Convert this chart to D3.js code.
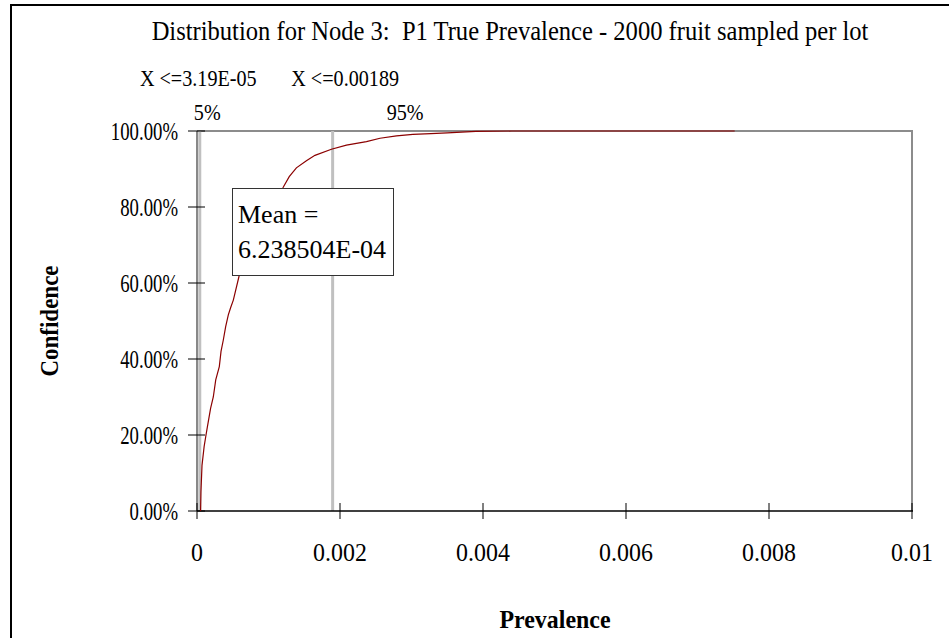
<!DOCTYPE html>
<html>
<head>
<meta charset="utf-8">
<script src="https://cdn.jsdelivr.net/npm/d3@7"></script>
<style>
  html, body { margin: 0; padding: 0; background: #ffffff; }
  svg { display: block; }
  text { font-family: "Liberation Serif", "Times New Roman", serif; fill: #000; white-space: pre; }
</style>
</head>
<body>
<script>
// Cumulative distribution of P1 true prevalence (2000 fruit sampled per lot)
const prevalence = [
  0.00005, 0.000055, 0.00007, 0.00010, 0.000126, 0.000144, 0.00019, 0.000228,
  0.000262, 0.000312, 0.000336, 0.000368, 0.000401, 0.000438, 0.000470, 0.000508,
  0.000592, 0.00066, 0.00074, 0.00085, 0.00099, 0.00120, 0.00129, 0.00139,
  0.00153, 0.00165, 0.00188, 0.00209, 0.00237, 0.00256, 0.00279, 0.00302,
  0.00327, 0.00350, 0.00390, 0.00440, 0.00752
];
const confidence = [
  0.0, 0.05, 0.12, 0.17, 0.20, 0.22, 0.27, 0.30,
  0.345, 0.38, 0.42, 0.45, 0.485, 0.516, 0.535, 0.555,
  0.621, 0.66, 0.70, 0.75, 0.80, 0.85, 0.88, 0.903,
  0.922, 0.936, 0.952, 0.963, 0.972, 0.981, 0.987, 0.991,
  0.993, 0.995, 0.999, 1.0, 1.0
];

const xTicks = [0, 0.002, 0.004, 0.006, 0.008, 0.01];
const xTickLabels = ["0", "0.002", "0.004", "0.006", "0.008", "0.01"];
const yTicks = [0, 0.2, 0.4, 0.6, 0.8, 1.0];
const yTickLabels = ["0.00%", "20.00%", "40.00%", "60.00%", "80.00%", "100.00%"];

const percentileValues = [3.19e-5, 0.00189];
const percentileNames = ["5%", "95%"];
const percentileTexts = ["X <=3.19E-05", "X <=0.00189"];
const meanValue = "6.238504E-04";

const titleText = "Distribution for Node 3:  P1 True Prevalence - 2000 fruit sampled per lot";

const W = 949, H = 638;
const plot = { left: 197, right: 912, top: 131, bottom: 511 };

const svg = d3.select("body").append("svg").attr("width", W).attr("height", H);

// outer frame
svg.append("rect")
  .attr("x", 11).attr("y", 5).attr("width", W + 10).attr("height", H + 10)
  .attr("fill", "#fff").attr("stroke", "#000").attr("stroke-width", 2);

const x = d3.scaleLinear().domain([0, 0.01]).range([plot.left, plot.right]);
const y = d3.scaleLinear().domain([0, 1]).range([plot.bottom, plot.top]);

// title (slightly condensed serif)
svg.append("text")
  .attr("transform", "translate(510,40) scale(0.91,1)")
  .attr("text-anchor", "middle").attr("font-size", 27)
  .text(titleText);

// plot frame: top and right edges in grey
svg.append("path")
  .attr("d", `M${plot.left},${plot.top}H${plot.right}V${plot.bottom}`)
  .attr("fill", "none").attr("stroke", "#8c8c8c").attr("stroke-width", 2);
svg.append("line")
  .attr("x1", plot.left).attr("x2", plot.left)
  .attr("y1", plot.top).attr("y2", plot.bottom)
  .attr("stroke", "#606060").attr("stroke-width", 1.5);

// percentile markers
const pctX = percentileValues.map(v => x(v));
svg.selectAll("line.pct").data(percentileValues).enter().append("line")
  .attr("class", "pct")
  .attr("x1", d => x(d) + 0.5).attr("x2", d => x(d) + 0.5)
  .attr("y1", plot.top).attr("y2", plot.bottom)
  .attr("stroke", "#c0c0c0").attr("stroke-width", 3);

// percentile captions (value row and percent row)
const valueRowOffsets = [-1, 13];
const pctRowOffsets = [8, 73];
svg.selectAll("text.pval").data(percentileTexts).enter().append("text")
  .attr("class", "pval")
  .attr("transform", (d, i) => `translate(${pctX[i] + valueRowOffsets[i]},86) scale(0.84,1)`)
  .attr("text-anchor", "middle").attr("font-size", 24)
  .text(d => d);
svg.selectAll("text.pname").data(percentileNames).enter().append("text")
  .attr("class", "pname")
  .attr("transform", (d, i) => `translate(${pctX[i] + pctRowOffsets[i]},120) scale(0.84,1)`)
  .attr("text-anchor", "middle").attr("font-size", 24)
  .text(d => d);

// x axis
svg.append("line")
  .attr("x1", plot.left).attr("x2", plot.right + 1)
  .attr("y1", plot.bottom).attr("y2", plot.bottom)
  .attr("stroke", "#000").attr("stroke-width", 1.5);
svg.selectAll("line.xt").data(xTicks).enter().append("line")
  .attr("class", "xt")
  .attr("x1", d => x(d)).attr("x2", d => x(d))
  .attr("y1", plot.bottom - 8).attr("y2", plot.bottom + 8)
  .attr("stroke", "#000").attr("stroke-width", 1);
svg.selectAll("text.xl").data(xTicks).enter().append("text")
  .attr("class", "xl")
  .attr("transform", d => `translate(${x(d)},561) scale(0.92,1)`)
  .attr("text-anchor", "middle").attr("font-size", 26)
  .text((d, i) => xTickLabels[i]);

// y axis
svg.selectAll("line.yt").data(yTicks).enter().append("line")
  .attr("class", "yt")
  .attr("x1", plot.left - 9).attr("x2", plot.left + 8)
  .attr("y1", d => y(d)).attr("y2", d => y(d))
  .attr("stroke", "#000").attr("stroke-width", 1);
svg.selectAll("text.yl").data(yTicks).enter().append("text")
  .attr("class", "yl")
  .attr("transform", d => `translate(178,${y(d) + 9}) scale(0.75,1)`)
  .attr("text-anchor", "end").attr("font-size", 25)
  .text((d, i) => yTickLabels[i]);

// axis titles
svg.append("text")
  .attr("transform", "translate(555,628) scale(0.92,1)")
  .attr("text-anchor", "middle").attr("font-size", 26).attr("font-weight", "bold")
  .text("Prevalence");
svg.append("text")
  .attr("transform", "translate(58,321) rotate(-90) scale(0.92,1)")
  .attr("text-anchor", "middle").attr("font-size", 25).attr("font-weight", "bold")
  .text("Confidence");

// cumulative curve
const pts = prevalence.map((p, i) => [p, confidence[i]]);
svg.append("path")
  .datum(pts)
  .attr("fill", "none").attr("stroke", "#8b0000").attr("stroke-width", 1.2)
  .attr("d", d3.line().x(d => x(d[0])).y(d => y(d[1])));

// mean annotation box
const box = svg.append("g").attr("transform", "translate(232,188)");
box.append("rect")
  .attr("x", 0.5).attr("y", 0.5).attr("width", 161).attr("height", 87)
  .attr("fill", "#fff").attr("stroke", "#333").attr("stroke-width", 1);
box.append("text").attr("x", 6).attr("y", 35).attr("font-size", 26).text("Mean =");
box.append("text").attr("x", 6).attr("y", 70).attr("font-size", 26).text(meanValue);
</script>
</body>
</html>
